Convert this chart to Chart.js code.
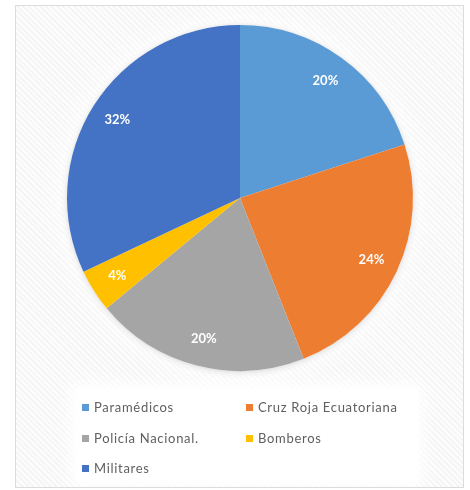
<!DOCTYPE html>
<html>
<head>
<meta charset="utf-8">
<script src="https://cdn.jsdelivr.net/npm/chart.js@4"></script>
<style>
  html, body { margin: 0; padding: 0; background: #ffffff; }
  #wrap { position: relative; width: 470px; height: 490px; overflow: hidden; }
  #frame {
    position: absolute; left: 15px; top: 5px; width: 447px; height: 481px;
    border: 1px solid #dcdcdc;
    background: repeating-linear-gradient(45deg, #f5f5f5 0px, #f5f5f5 2px, #fdfdfd 2px, #fdfdfd 4px);
    overflow: hidden;
  }
  #legendBox {
    position: absolute; left: 60px; top: 383px; width: 342px; height: 93px;
    background: #ffffff; box-shadow: 0 0 14px 6px #ffffff;
  }
  canvas { position: absolute; left: 0; top: 0; }
</style>
</head>
<body>
<div id="wrap">
  <div id="frame"><div id="legendBox"></div></div>
  <canvas id="chart" width="470" height="490"></canvas>
</div>
<script>
// Personal por institución (porcentaje)
const categories = ['Paramédicos', 'Cruz Roja Ecuatoriana', 'Policía Nacional.', 'Bomberos', 'Militares'];
const shares = [20, 24, 20, 4, 32];
const colors = ['#5B9BD5', '#ED7D31', '#A5A5A5', '#FFC000', '#4472C4'];

// Soft halo and shadow behind the pie
const pieHalo = {
  id: 'pieHalo',
  beforeDatasetsDraw(chart) {
    const arc = chart.getDatasetMeta(0).data[0];
    if (!arc) return;
    const { x, y, outerRadius } = arc.getProps(['x', 'y', 'outerRadius'], true);
    const ctx = chart.ctx;
    ctx.save();
    ctx.fillStyle = '#ffffff';
    ctx.shadowColor = 'rgba(255,255,255,1)';
    ctx.shadowBlur = 30;
    ctx.beginPath(); ctx.arc(x, y, outerRadius + 4, 0, Math.PI * 2); ctx.fill();
    ctx.shadowColor = 'rgba(0,0,0,0.18)';
    ctx.shadowBlur = 7;
    ctx.shadowOffsetY = 1;
    ctx.beginPath(); ctx.arc(x, y, outerRadius, 0, Math.PI * 2); ctx.fill();
    ctx.restore();
  }
};

// Percentage labels inside each slice
const sliceLabels = {
  id: 'sliceLabels',
  afterDatasetsDraw(chart) {
    const ctx = chart.ctx;
    const meta = chart.getDatasetMeta(0);
    const values = chart.data.datasets[0].data;
    ctx.save();
    ctx.font = 'bold 13px Lato, "Open Sans", sans-serif';
    ctx.fillStyle = '#ffffff';
    ctx.textAlign = 'center';
    ctx.textBaseline = 'middle';
    meta.data.forEach((arc, i) => {
      const p = arc.getProps(['x', 'y', 'startAngle', 'endAngle', 'outerRadius'], true);
      const mid = (p.startAngle + p.endAngle) / 2;
      const r = p.outerRadius * 0.84;
      ctx.fillText(values[i] + '%', p.x + Math.cos(mid) * r, p.y + Math.sin(mid) * r);
    });
    ctx.restore();
  }
};

// Two-column legend under the pie
const gridLegend = {
  id: 'gridLegend',
  afterDraw(chart) {
    const ctx = chart.ctx;
    const labels = chart.data.labels;
    const bg = chart.data.datasets[0].backgroundColor;
    const colX = [82, 246];
    const rowY = [408, 439, 469];
    ctx.save();
    ctx.font = '13px Lato, "Open Sans", sans-serif';
    ctx.letterSpacing = '0.7px';
    ctx.textBaseline = 'middle';
    labels.forEach((lab, i) => {
      const x = colX[i % 2];
      const y = rowY[Math.floor(i / 2)];
      ctx.fillStyle = bg[i];
      ctx.fillRect(x, y - 4, 7, 7);
      ctx.fillStyle = '#5f5f5f';
      ctx.fillText(lab, x + 12, y);
    });
    ctx.restore();
  }
};

new Chart(document.getElementById('chart'), {
  type: 'pie',
  data: {
    labels: categories,
    datasets: [{
      data: shares,
      backgroundColor: colors,
      borderWidth: 0
    }]
  },
  options: {
    responsive: false,
    animation: false,
    layout: { padding: { left: 67, right: 57, top: 25, bottom: 119 } },
    plugins: {
      legend: { display: false },
      tooltip: { enabled: false }
    }
  },
  plugins: [pieHalo, sliceLabels, gridLegend]
});
</script>
</body>
</html>
